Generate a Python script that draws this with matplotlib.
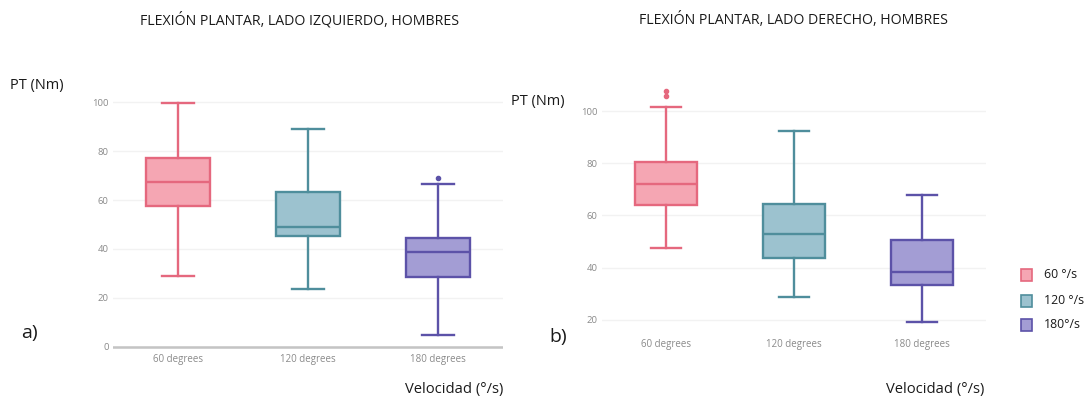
import matplotlib.pyplot as plt
from matplotlib.patches import Rectangle

# categories and legend text
categories = ['60 degrees', '120 degrees', '180 degrees']
legend_labels = ['60 °/s', '120 °/s', '180°/s']

# left panel (lado izquierdo) box stats
izq_whislo = [29.0, 23.7, 4.8]
izq_q1 = [57.7, 45.4, 28.5]
izq_med = [67.3, 49.1, 38.9]
izq_q3 = [77.3, 63.4, 44.3]
izq_whishi = [99.5, 89.0, 66.7]
izq_fliers = [[], [], [68.9]]

# right panel (lado derecho) box stats
der_whislo = [47.7, 28.9, 19.1]
der_q1 = [64.0, 43.6, 33.4]
der_med = [71.9, 53.0, 38.5]
der_q3 = [80.5, 64.4, 50.6]
der_whishi = [101.6, 92.2, 67.7]
der_fliers = [[105.8, 107.6], [], []]

fills = ['#f5a6b3', '#9cc2cf', '#a39dd4']
edges = ['#e5687e', '#4f8e9c', '#5c52a8']

W, H = 1087, 398
fig = plt.figure(figsize=(W / 100, H / 100), dpi=100)
txt_font = 'Open Sans'


def px_axes(x0, y0, x1, y1):
    # pixel box (top-left origin) -> figure axes
    return fig.add_axes([x0 / W, 1 - y1 / H, (x1 - x0) / W, (y1 - y0) / H])


def draw_panel(ax, whislo, q1, med, q3, whishi, fliers, ylim, zeroline):
    stats = []
    for i in range(len(categories)):
        stats.append(dict(whislo=whislo[i], q1=q1[i], med=med[i], q3=q3[i],
                          whishi=whishi[i], fliers=fliers[i], label=categories[i]))
    for i, s in enumerate(stats):
        ax.bxp([s], positions=[i], widths=0.49, capwidths=0.24, patch_artist=True,
               boxprops=dict(facecolor=fills[i], edgecolor=edges[i], linewidth=1.7),
               medianprops=dict(color=edges[i], linewidth=1.7),
               whiskerprops=dict(color=edges[i], linewidth=1.7),
               capprops=dict(color=edges[i], linewidth=1.7),
               flierprops=dict(marker='o', markersize=3.0, markerfacecolor=edges[i],
                               markeredgecolor=edges[i]))
    ax.set_xlim(-0.5, 2.5)
    ax.set_ylim(*ylim)
    ax.set_xticks(range(len(categories)))
    ax.set_xticklabels(categories, fontsize=7, color='#8a8a8a', family=txt_font)
    ax.set_yticks([t for t in range(0, 101, 20) if ylim[0] <= t <= ylim[1]])
    ax.tick_params(axis='y', labelsize=6.8, labelcolor='#8a8a8a', length=0, pad=3)
    ax.tick_params(axis='x', length=0, pad=2)
    for lab in ax.get_yticklabels():
        lab.set_family(txt_font)
    ax.grid(axis='y', color='#f2f2f2', linewidth=1)
    ax.set_axisbelow(True)
    for sp in ax.spines.values():
        sp.set_visible(False)
    if zeroline:
        ax.axhline(0, color='#c4c4c4', linewidth=1.8, zorder=1)


ax1 = px_axes(113, 92.5, 503, 351.6)
draw_panel(ax1, izq_whislo, izq_q1, izq_med, izq_q3, izq_whishi, izq_fliers,
           (-2, 104), True)

ax2 = px_axes(602, 84.9, 986, 333)
draw_panel(ax2, der_whislo, der_q1, der_med, der_q3, der_whishi, der_fliers,
           (15, 110), False)
ax2.tick_params(axis='x', pad=4)

# titles and annotations
def ftext(x, y, s, size, ha='left'):
    fig.text(x / W, 1 - y / H, s, fontsize=size, family=txt_font, ha=ha, va='center',
             color='#1a1a1a')

ftext(299, 20, 'FLEXIÓN PLANTAR, LADO IZQUIERDO, HOMBRES', 10.2, 'center')
ftext(793, 20, 'FLEXIÓN PLANTAR, LADO DERECHO, HOMBRES', 10.2, 'center')
ftext(10, 85, 'PT (Nm)', 10.5)
ftext(511, 101, 'PT (Nm)', 10.5)
ftext(21, 333, 'a)', 14)
ftext(549, 337, 'b)', 14)
ftext(405, 390, 'Velocidad (°/s)', 10.6)
ftext(886, 389, 'Velocidad (°/s)', 10.6)

# legend
for i, lab in enumerate(legend_labels):
    yc = [275, 301, 325][i]
    fig.patches.append(Rectangle((1021 / W, 1 - (yc + 6) / H), 11 / W, 12 / H,
                                 transform=fig.transFigure, facecolor=fills[i],
                                 edgecolor=edges[i], linewidth=1.2))
    ftext(1044, yc, lab, 8.8)

fig.savefig('out.png', dpi=100)
